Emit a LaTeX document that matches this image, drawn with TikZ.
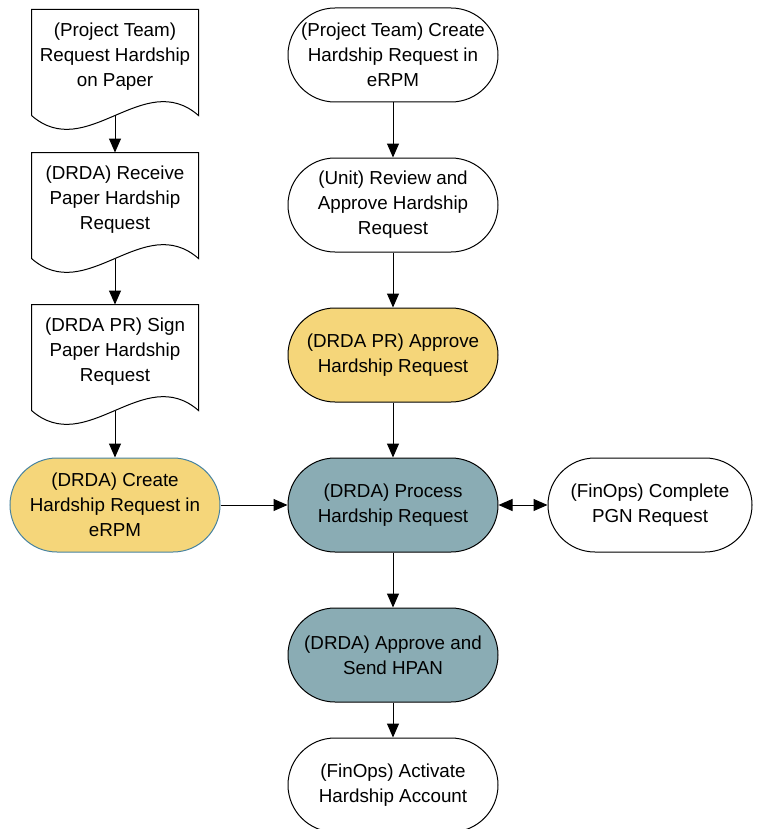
\documentclass[tikz,border=0pt]{standalone}
\usepackage{fontspec}
\setmainfont{Liberation Sans}
\usetikzlibrary{arrows.meta}
\definecolor{hsyellow}{RGB}{245,214,122}
\definecolor{hsteal}{RGB}{138,172,180}
\definecolor{hsedge}{RGB}{70,130,160}
\tikzstyle{process} = [rectangle, rounded corners=23.5pt, minimum width=105pt, minimum height=47pt, align=center, draw=black, fill=white]
\tikzstyle{drda} = [process, fill=hsteal]
\tikzstyle{approve} = [process, fill=hsyellow]
\tikzstyle{paperdoc} = [rectangle, minimum width=83pt, minimum height=47pt, align=center]
\tikzstyle{arrow} = [line width=0.5pt, -{Triangle[length=7pt,width=6pt]}]
\tikzstyle{twoway} = [line width=0.5pt, {Triangle[length=7pt,width=6pt]}-{Triangle[length=7pt,width=6pt]}]

\begin{document}
\begin{tikzpicture}[node distance=75pt, font=\fontsize{9.4}{12.5}\selectfont, line width=0.5pt]
  \useasboundingbox (0,0) rectangle (380pt,-414.5pt);

  % eRPM path
  \node (create) [process] at (196.5pt,-27.5pt) {(Project Team) Create\\Hardship Request in\\eRPM};
  \node (review) [process, below of=create] {(Unit) Review and\\Approve Hardship\\Request};
  \node (prapp) [approve, below of=review] {(DRDA PR) Approve\\Hardship Request};
  \node (proc) [drda, below of=prapp] {(DRDA) Process\\Hardship Request};
  \node (send) [drda, below of=proc] {(DRDA) Approve and\\Send HPAN};
  \node (activate) [process, below of=send, yshift=10pt] {(FinOps) Activate\\Hardship Account};
  \node (pgn) [process, minimum width=102pt, right of=proc, xshift=53.5pt] {(FinOps) Complete\\PGN Request};

  % paper path
  \node (paper1) [paperdoc, left of=create, xshift=-64pt, yshift=-1pt] {(Project Team)\\Request Hardship\\on Paper};
  \node (paper2) [paperdoc, left of=review, xshift=-64pt, yshift=2.5pt] {(DRDA) Receive\\Paper Hardship\\Request};
  \node (paper3) [paperdoc, left of=prapp, xshift=-64pt, yshift=1.5pt] {(DRDA PR) Sign\\Paper Hardship\\Request};
  \node (enter) [approve, draw=hsedge, left of=proc, xshift=-64pt] {(DRDA) Create\\Hardship Request in\\eRPM};

  \foreach \d in {paper1,paper2,paper3}
    \draw ([yshift=-5.5pt]\d.south west) -- (\d.north west) -- (\d.north east) -- ([yshift=-5.5pt]\d.south east)
      .. controls +(-27.5pt,24pt) and +(27.5pt,-24pt) .. ([yshift=-5.5pt]\d.south west);

  \draw [arrow] ([yshift=-5.5pt]paper1.south) -- (paper2.north);
  \draw [arrow] ([yshift=-5.5pt]paper2.south) -- (paper3.north);
  \draw [arrow] ([yshift=-5.5pt]paper3.south) -- (enter.north);
  \draw [arrow] (enter) -- (proc);

  \draw [arrow] (create) -- (review);
  \draw [arrow] (review) -- (prapp);
  \draw [arrow] (prapp) -- (proc);
  \draw [arrow] (proc) -- (send);
  \draw [arrow] (send) -- (activate);
  \draw [twoway] (proc) -- (pgn);
\end{tikzpicture}
\end{document}
